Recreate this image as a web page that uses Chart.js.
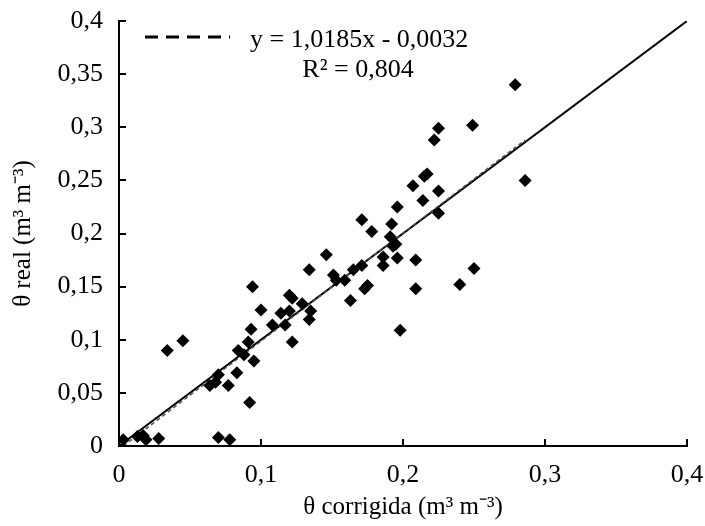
<!DOCTYPE html>
<html lang="pt">
  <head>
    <meta charset="utf-8">
    <script src="https://cdn.jsdelivr.net/npm/chart.js@4.4.1/dist/chart.umd.min.js"></script>
    <title>theta real x theta corrigida</title>
    <style>
      body { margin:0; background:#fff; }
      #wrap { width:705px; height:526px; }
    </style>
  </head>
  <body>
    <div id="wrap"><canvas id="myChart" width="705" height="526"></canvas></div>
    <script>
      // valores
      var corrigida = [0.003,0.013,0.017,0.019,0.028,0.034,0.045,0.064,0.068,0.070,0.070,0.077,0.078,0.083,0.084,0.088,0.091,0.092,0.093,0.094,0.095,0.100,0.108,0.114,0.117,0.120,0.120,0.122,0.122,0.129,0.134,0.134,0.135,0.146,0.151,0.153,0.159,0.163,0.165,0.171,0.171,0.173,0.175,0.178,0.186,0.186,0.191,0.192,0.193,0.195,0.196,0.196,0.198,0.207,0.209,0.209,0.214,0.215,0.217,0.222,0.225,0.225,0.225,0.240,0.249,0.250,0.279,0.286]
      var real = [0.006,0.009,0.010,0.006,0.007,0.090,0.099,0.057,0.060,0.067,0.008,0.057,0.006,0.069,0.090,0.086,0.098,0.041,0.110,0.150,0.080,0.128,0.114,0.125,0.114,0.127,0.142,0.139,0.098,0.134,0.166,0.119,0.127,0.180,0.161,0.156,0.156,0.137,0.166,0.213,0.170,0.148,0.151,0.202,0.170,0.178,0.197,0.209,0.188,0.190,0.225,0.177,0.109,0.245,0.148,0.175,0.231,0.254,0.256,0.288,0.299,0.240,0.219,0.152,0.302,0.167,0.340,0.250]
      var trendX = [0.003, 0.286]
      var trendY = [0.0, 0.288]
      var lineX = [0, 0.4]
      var lineY = [0, 0.4]
      var eqText = 'y = 1,0185x - 0,0032'
      var r2Text = 'R² = 0,804'

      var font = "'Liberation Serif', 'Times New Roman', serif"

      function pts(xs, ys) {
        var out = []
        for (var i = 0; i < xs.length; i++) out.push({x: xs[i], y: ys[i]})
        return out
      }
      function virgula(v) {
        var s = (Math.round(v * 100) / 100).toString()
        return s.replace('.', ',')
      }

      // marcas dos eixos para dentro + legenda
      var extras = {
        id: 'extras',
        afterDraw: function(chart) {
          var ctx = chart.ctx, xs = chart.scales.x, ys = chart.scales.y
          var a = chart.chartArea
          ctx.save()
          ctx.strokeStyle = '#000'
          ctx.lineWidth = 2
          xs.ticks.forEach(function(t) {
            var px = Math.round(xs.getPixelForValue(t.value))
            ctx.beginPath(); ctx.moveTo(px, a.bottom); ctx.lineTo(px, a.bottom - 7); ctx.stroke()
          })
          ys.ticks.forEach(function(t) {
            var py = Math.round(ys.getPixelForValue(t.value))
            ctx.beginPath(); ctx.moveTo(a.left, py); ctx.lineTo(a.left + 7, py); ctx.stroke()
          })
          // legenda
          ctx.lineWidth = 3
          ctx.setLineDash([13, 8])
          ctx.beginPath(); ctx.moveTo(145, 37); ctx.lineTo(230, 37); ctx.stroke()
          ctx.setLineDash([])
          ctx.fillStyle = '#000'
          ctx.font = '26px ' + font
          ctx.textBaseline = 'alphabetic'
          ctx.textAlign = 'left'
          ctx.fillText(eqText, 250, 47)
          ctx.textAlign = 'center'
          ctx.fillText(r2Text, 358, 77)
          ctx.restore()
        }
      }

      var myChart = document.getElementById('myChart').getContext('2d')
      var chart = new Chart(myChart, {
        type: 'scatter',
        data: {
          datasets: [
            {
              label: 'dados',
              data: pts(corrigida, real),
              pointStyle: 'rectRot',
              pointRadius: 6.5,
              backgroundColor: '#000',
              borderColor: '#000',
              borderWidth: 0,
              order: 1
            },
            {
              label: '1:1',
              type: 'line',
              data: pts(lineX, lineY),
              borderColor: '#000',
              borderWidth: 2,
              pointRadius: 0,
              order: 3
            },
            {
              label: 'tendencia',
              type: 'line',
              data: pts(trendX, trendY),
              borderColor: '#555',
              borderWidth: 1.5,
              borderDash: [4, 3],
              pointRadius: 0,
              order: 2
            }
          ]
        },
        options: {
          responsive: false,
          animation: false,
          layout: { padding: { top: 21, right: 18, left: 0, bottom: 0 } },
          plugins: { legend: { display: false }, tooltip: { enabled: false } },
          scales: {
            x: {
              type: 'linear', min: 0, max: 0.4,
              grid: { display: false, drawTicks: false },
              border: { display: true, color: '#000', width: 2 },
              ticks: { stepSize: 0.1, padding: 14, color: '#000', font: { family: font, size: 26 }, callback: virgula },
              title: { display: true, text: 'θ corrigida (m³ m⁻³)', color: '#000', font: { family: font, size: 25 }, padding: { top: 0, bottom: 4 } },
              afterFit: function(s) { s.height = 80; s.paddingLeft = 0; s.paddingRight = 0 }
            },
            y: {
              type: 'linear', min: 0, max: 0.4,
              grid: { display: false, drawTicks: false },
              border: { display: true, color: '#000', width: 2 },
              ticks: { stepSize: 0.05, padding: 16, color: '#000', font: { family: font, size: 26 }, callback: virgula },
              title: { display: true, text: 'θ real (m³ m⁻³)', color: '#000', font: { family: font, size: 25 }, padding: { top: 8, bottom: 4 } },
              afterFit: function(s) { s.width = 119; s.paddingTop = 0; s.paddingBottom = 0 }
            }
          }
        },
        plugins: [extras]
      })
    </script>
  </body>
</html>
